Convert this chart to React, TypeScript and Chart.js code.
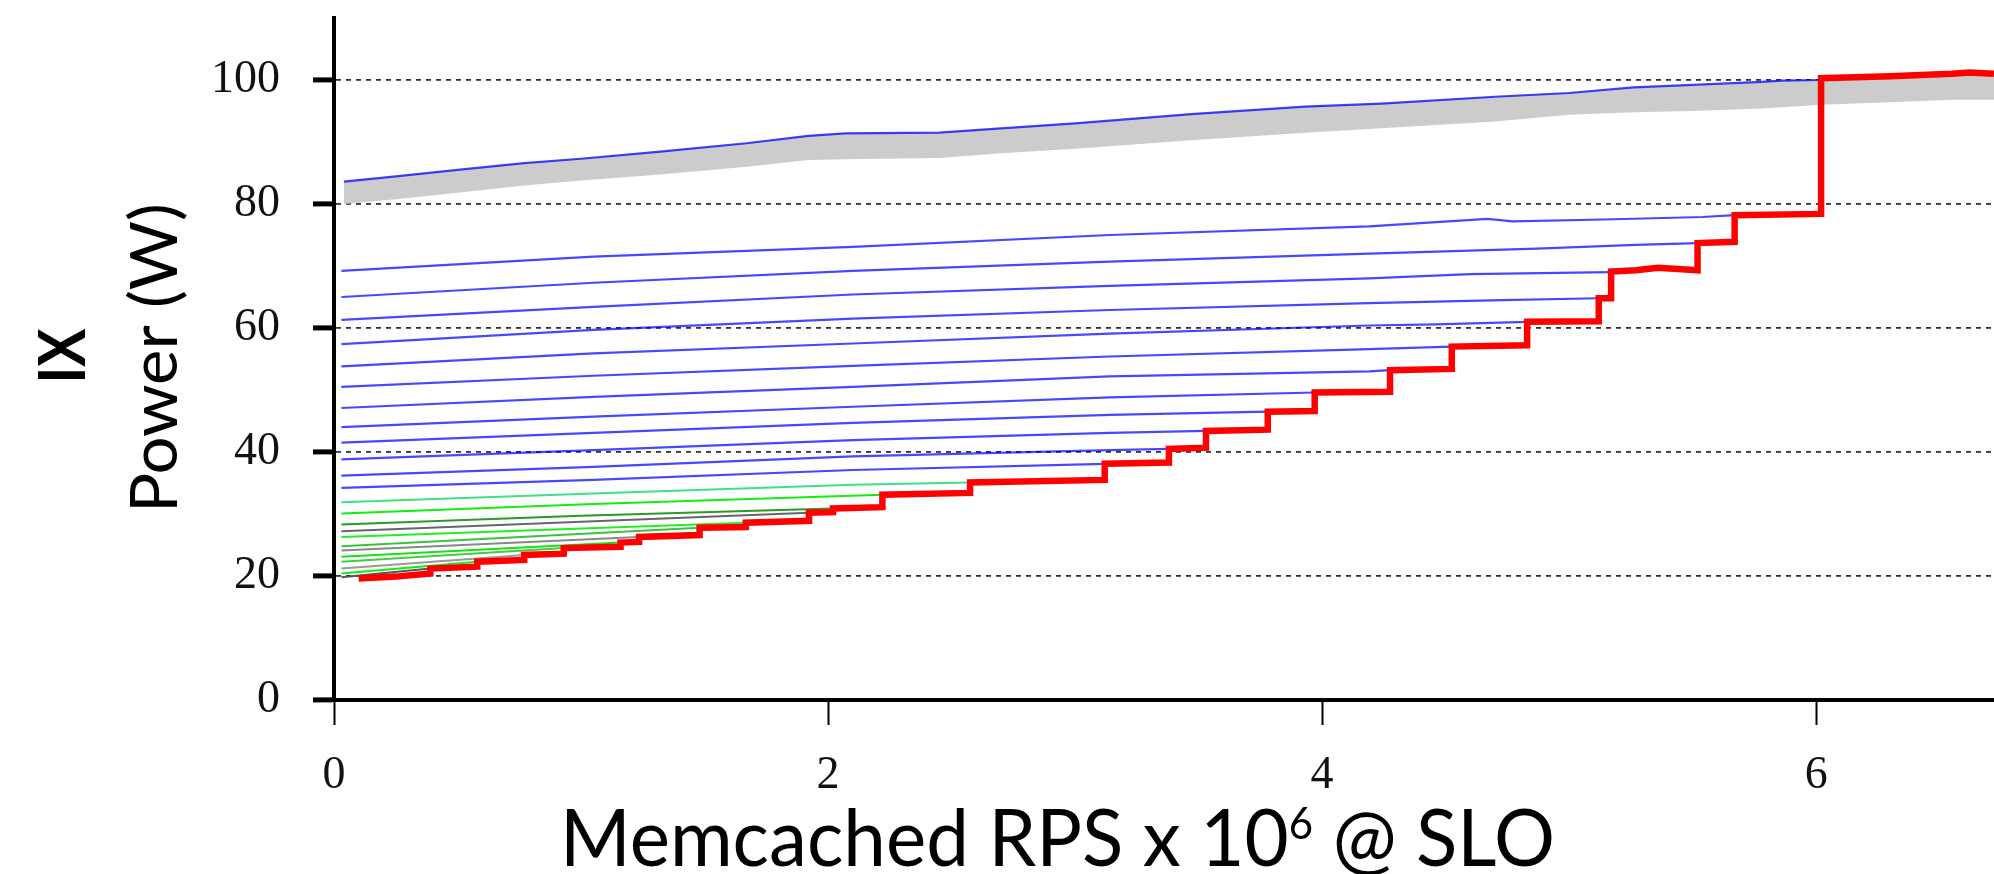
import React, { useEffect, useRef } from 'react';
import { Chart, registerables } from 'chart.js';

Chart.register(...registerables);

// ---- Axis ticks / labels ----
const xTickValues = [0, 2, 4, 6];
const yTickValues = [0, 20, 40, 60, 80, 100];
const xTitleMain = 'Memcached RPS x 10';
const xTitleSup = '6';
const xTitleTail = ' @ SLO';
const yTitle = 'Power (W)';
const rowTitle = 'IX';

// ---- Gray band (top edge = upper blue curve) ----
const bandX = [0.04, 0.26, 0.5, 0.77, 1.0, 1.31, 1.67, 1.92, 2.07, 2.45, 2.7, 3.0, 3.47, 3.93, 4.24, 4.7, 5.0, 5.26, 5.5, 5.78, 5.86, 6.02, 6.3, 6.55, 6.72];
const bandTop = [83.6, 84.5, 85.5, 86.6, 87.3, 88.4, 89.8, 91.0, 91.4, 91.5, 92.2, 93.0, 94.5, 95.7, 96.2, 97.3, 97.9, 98.8, 99.2, 99.7, 99.9, 100.0, 100.4, 100.8, 101.0];
const bandBottom = [80.0, 80.8, 81.8, 83.0, 83.8, 84.7, 86.0, 87.1, 87.2, 87.4, 88.2, 88.9, 90.3, 91.5, 92.2, 93.3, 94.4, 94.8, 95.0, 95.4, 95.6, 96.0, 96.4, 96.8, 96.8];
const topBlueEndIndex = 21; // upper blue curve stops at x = 6.02

// ---- Blue curves: [x, y] pairs ----
const blueCurves: [number, number][][] = [
  [[0.03, 69.2], [1.05, 71.5], [2.1, 73.1], [3.14, 75.0], [4.19, 76.4], [4.67, 77.6], [4.77, 77.2], [5.14, 77.5], [5.54, 77.9], [5.67, 78.2]],
  [[0.03, 65.0], [1.05, 67.3], [2.1, 69.2], [3.14, 70.7], [4.19, 72.0], [4.87, 72.8], [5.27, 73.4], [5.52, 73.7]],
  [[0.03, 61.3], [1.05, 63.4], [2.1, 65.4], [3.14, 66.8], [4.19, 68.0], [4.6, 68.7], [5.17, 69.0]],
  [[0.03, 57.4], [1.05, 59.7], [2.1, 61.5], [3.14, 62.9], [4.19, 64.0], [4.73, 64.5], [5.12, 64.8]],
  [[0.03, 53.8], [1.05, 55.9], [2.1, 57.5], [3.14, 59.1], [4.19, 60.4], [4.46, 60.6], [4.83, 61.0]],
  [[0.03, 50.5], [1.05, 52.3], [2.1, 53.9], [3.14, 55.4], [4.19, 56.6], [4.525, 57.0]],
  [[0.03, 47.1], [1.05, 48.9], [2.1, 50.5], [3.14, 52.2], [4.19, 53.0], [4.275, 53.2]],
  [[0.03, 44.0], [1.05, 45.7], [2.1, 47.3], [3.14, 48.8], [3.97, 49.6]],
  [[0.03, 41.5], [1.05, 43.1], [2.1, 44.7], [3.14, 46.0], [3.78, 46.5]],
  [[0.03, 38.8], [1.05, 40.3], [2.1, 41.9], [3.14, 43.1], [3.53, 43.4]],
  [[0.03, 36.2], [1.05, 37.6], [2.1, 39.3], [3.14, 40.3], [3.38, 40.5]],
  [[0.03, 34.2], [1.05, 35.5], [2.1, 37.1], [3.12, 38.1]],
];

// ---- Green curves: [x, y] pairs ----
const greenCurves: [number, number][][] = [
  [[0.03, 31.9], [1.05, 33.3], [2.1, 34.7], [2.575, 35.1]],
  [[0.03, 30.1], [1.05, 31.6], [2.22, 33.1]],
  [[0.03, 28.3], [1.0, 29.7], [2.02, 30.9]],
  [[0.03, 27.2], [1.923, 30.2]],
  [[0.03, 26.3], [1.667, 28.6]],
  [[0.03, 24.8], [1.48, 27.8]],
  [[0.03, 24.1], [1.235, 26.3]],
  [[0.03, 23.1], [1.16, 25.4]],
  [[0.03, 22.3], [0.93, 24.5]],
  [[0.03, 21.2], [0.77, 23.4]],
  [[0.03, 20.4], [0.58, 22.3]],
  [[0.03, 19.8], [0.39, 21.2]],
];
const greenColors = ['#3ee08a', '#11ee11', '#2a9a2a', '#666666', '#22ee22', '#3cc23c', '#888888', '#11e611', '#44cc44', '#9a9a9a', '#11ee11', '#555555'];

// ---- Red step curve ----
const redX = [0.1, 0.25, 0.39, 0.39, 0.58, 0.58, 0.77, 0.77, 0.93, 0.93, 1.16, 1.16, 1.235, 1.235, 1.48, 1.48, 1.667, 1.667, 1.923, 1.923, 2.02, 2.02, 2.22, 2.22, 2.575, 2.575, 3.12, 3.12, 3.38, 3.38, 3.53, 3.53, 3.78, 3.78, 3.97, 3.97, 4.275, 4.275, 4.525, 4.525, 4.83, 4.83, 5.12, 5.12, 5.17, 5.17, 5.27, 5.36, 5.52, 5.52, 5.67, 5.67, 6.02, 6.02, 6.3, 6.55, 6.62, 6.72];
const redY = [19.6, 19.9, 20.4, 21.2, 21.5, 22.3, 22.6, 23.4, 23.6, 24.5, 24.7, 25.4, 25.5, 26.3, 26.6, 27.8, 27.9, 28.6, 28.9, 30.2, 30.3, 30.9, 31.1, 33.1, 33.4, 35.1, 35.5, 38.1, 38.3, 40.5, 40.7, 43.4, 43.6, 46.5, 46.6, 49.6, 49.7, 53.2, 53.4, 57.0, 57.2, 61.0, 61.1, 64.8, 64.8, 69.1, 69.3, 69.7, 69.3, 73.7, 73.9, 78.2, 78.4, 100.3, 100.6, 101.0, 101.2, 101.0];

const toPts = (xs: number[], ys: number[]) => xs.map((x, i) => ({ x, y: ys[i] }));
const pairPts = (arr: [number, number][]) => arr.map(([x, y]) => ({ x, y }));

const titlesPlugin = {
  id: 'customTitles',
  afterDraw(chart: any) {
    const ctx: CanvasRenderingContext2D = chart.ctx;
    ctx.save();
    ctx.fillStyle = '#000';
    ctx.textBaseline = 'alphabetic';
    // X title with superscript
    const big = '80px Lato';
    const small = '44px Lato';
    ctx.font = big;
    const w1 = ctx.measureText(xTitleMain).width;
    const w3 = ctx.measureText(xTitleTail).width;
    ctx.font = small;
    const w2 = ctx.measureText(xTitleSup).width;
    const total = w1 + w2 + w3;
    ctx.save();
    ctx.translate(560, 866);
    ctx.scale(995 / total, 1);
    ctx.textAlign = 'left';
    ctx.font = big;
    ctx.fillText(xTitleMain, 0, 0);
    ctx.font = small;
    ctx.fillText(xTitleSup, w1, -27);
    ctx.font = big;
    ctx.fillText(xTitleTail, w1 + w2, 0);
    ctx.restore();

    // Y titles (rotated)
    const drawRot = (text: string, font: string, bx: number, cy: number, len: number) => {
      ctx.save();
      ctx.translate(bx, cy);
      ctx.rotate(-Math.PI / 2);
      ctx.font = font;
      const w = ctx.measureText(text).width;
      ctx.scale(len / w, 1);
      ctx.textAlign = 'center';
      ctx.fillText(text, 0, 0);
      ctx.restore();
    };
    drawRot(yTitle, '65px Lato', 177, 358, 310);
    drawRot(rowTitle, 'bold 65px Lato', 85, 356, 55);
    ctx.restore();
  },
};

const zeroPad = (s: any) => {
  s.paddingTop = 0;
  s.paddingBottom = 0;
  s.paddingLeft = 0;
  s.paddingRight = 0;
};

export default function App() {
  const ref = useRef<HTMLCanvasElement>(null);
  useEffect(() => {
    document.body.style.margin = '0';
    const datasets: any[] = [];
    datasets.push({
      label: 'red',
      data: toPts(redX, redY),
      borderColor: '#ff0000',
      borderWidth: 6.5,
      borderJoinStyle: 'miter',
      borderCapStyle: 'butt',
      pointRadius: 0,
      fill: false,
      order: 0,
    });
    datasets.push({
      label: 'topBlue',
      data: toPts(bandX.slice(0, topBlueEndIndex + 1), bandTop.slice(0, topBlueEndIndex + 1)),
      borderColor: 'rgba(0,0,255,0.75)',
      borderWidth: 2.2,
      pointRadius: 0,
      fill: false,
      order: 1,
    });
    blueCurves.forEach((c, i) => {
      datasets.push({
        label: 'blue' + i,
        data: pairPts(c),
        borderColor: 'rgba(0,0,255,0.72)',
        borderWidth: 2.2,
        pointRadius: 0,
        fill: false,
        order: 2,
      });
    });
    greenCurves.forEach((c, i) => {
      datasets.push({
        label: 'green' + i,
        data: pairPts(c),
        borderColor: greenColors[i],
        borderWidth: 2,
        pointRadius: 0,
        fill: false,
        order: 3,
      });
    });
    datasets.push({
      label: 'bandTop',
      data: toPts(bandX, bandTop),
      borderWidth: 0,
      borderColor: 'rgba(0,0,0,0)',
      backgroundColor: 'rgb(204,204,204)',
      pointRadius: 0,
      fill: '+1',
      order: 5,
    });
    datasets.push({
      label: 'bandBottom',
      data: toPts(bandX, bandBottom),
      borderWidth: 0,
      borderColor: 'rgba(0,0,0,0)',
      pointRadius: 0,
      fill: false,
      order: 6,
    });

    const chart = new Chart(ref.current as HTMLCanvasElement, {
      type: 'line',
      data: { datasets },
      plugins: [titlesPlugin],
      options: {
        responsive: false,
        devicePixelRatio: 1,
        animation: false,
        events: [],
        layout: { padding: { top: 18, left: 0, right: 0, bottom: 0 } },
        elements: { line: { tension: 0 }, point: { radius: 0 } },
        plugins: { legend: { display: false }, tooltip: { enabled: false }, title: { display: false } },
        scales: {
          x: {
            type: 'linear',
            min: 0,
            max: 6.72,
            afterBuildTicks: (s: any) => { s.ticks = xTickValues.map((v) => ({ value: v })); },
            afterFit: (s: any) => { s.height = 174; zeroPad(s); },
            grid: { drawOnChartArea: false, drawTicks: true, tickLength: 25, tickWidth: 2, tickColor: '#000' },
            border: { display: true, color: '#000', width: 4 },
            ticks: {
              font: { family: 'Liberation Serif', size: 46 },
              color: '#111',
              padding: 23,
              maxRotation: 0,
              autoSkip: false,
            },
          },
          y: {
            type: 'linear',
            min: 0,
            max: 110,
            afterBuildTicks: (s: any) => { s.ticks = yTickValues.map((v) => ({ value: v })); },
            afterFit: (s: any) => { s.width = 334; zeroPad(s); },
            grid: {
              color: (c: any) => (c.tick && c.tick.value === 0 ? 'rgba(0,0,0,0)' : '#333'),
              lineWidth: 1.8,
              drawTicks: true,
              tickLength: 21,
              tickWidth: 5,
              tickColor: '#000',
            },
            border: { display: true, color: '#000', width: 4, dash: [5, 5] },
            ticks: {
              font: { family: 'Liberation Serif', size: 46 },
              color: '#111',
              padding: 33,
              autoSkip: false,
            },
          },
        },
      } as any,
    });
    return () => chart.destroy();
  }, []);
  return (
    <div style={{ position: 'fixed', left: 0, top: 0, width: 1994, height: 874, background: '#fff' }}>
      <canvas ref={ref} width={1994} height={874} style={{ display: 'block', width: '1994px', height: '874px' }} />
    </div>
  );
}
